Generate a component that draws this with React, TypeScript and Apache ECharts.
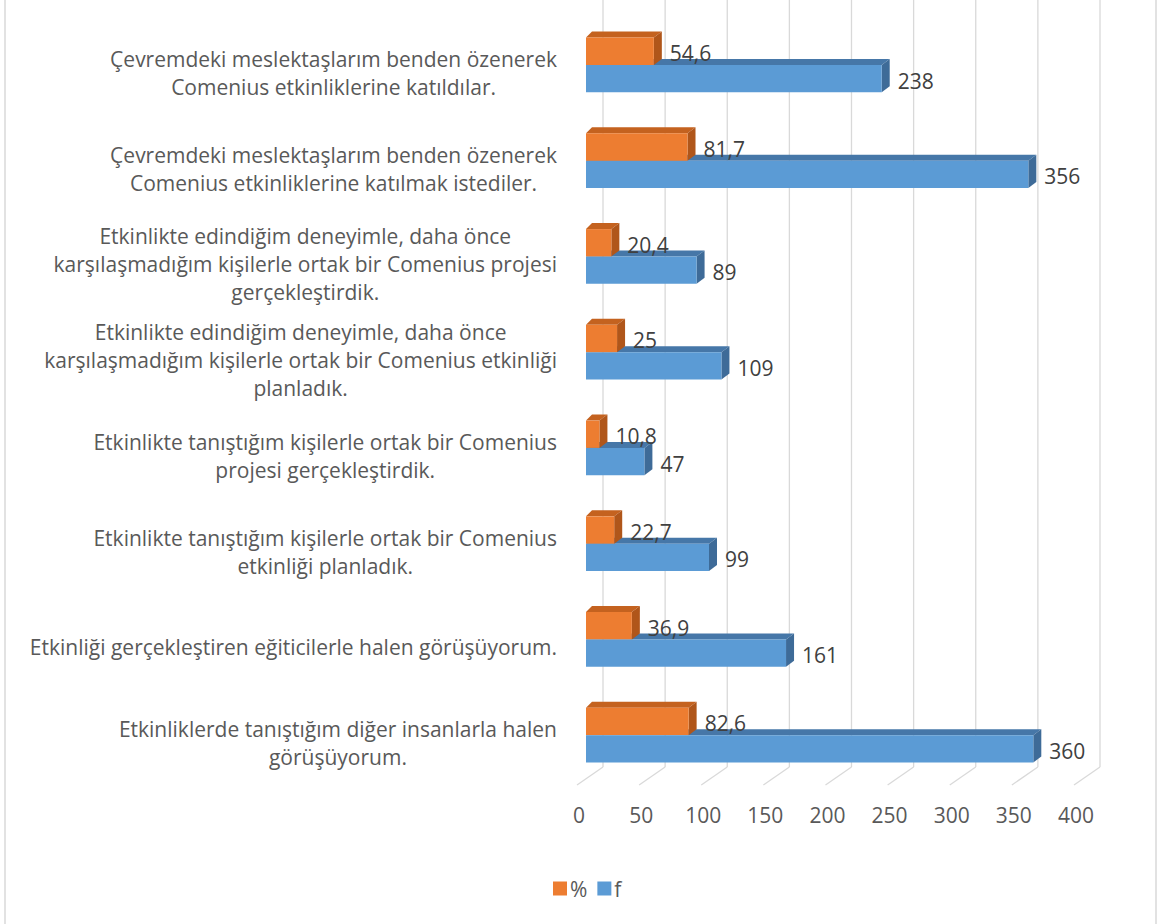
import React, { useEffect, useRef } from 'react';
import * as echarts from 'echarts';

const categories = [
  'Çevremdeki meslektaşlarım benden özenerek\nComenius etkinliklerine katıldılar.',
  'Çevremdeki meslektaşlarım benden özenerek\nComenius etkinliklerine katılmak istediler.',
  'Etkinlikte edindiğim deneyimle, daha önce\nkarşılaşmadığım kişilerle ortak bir Comenius projesi\ngerçekleştirdik.',
  'Etkinlikte edindiğim deneyimle, daha önce\nkarşılaşmadığım kişilerle ortak bir Comenius etkinliği\nplanladık.',
  'Etkinlikte tanıştığım kişilerle ortak bir Comenius\nprojesi gerçekleştirdik.',
  'Etkinlikte tanıştığım kişilerle ortak bir Comenius\netkinliği planladık.',
  'Etkinliği gerçekleştiren eğiticilerle halen görüşüyorum.',
  'Etkinliklerde tanıştığım diğer insanlarla halen\ngörüşüyorum.',
];
const percentValues = [54.6, 81.7, 20.4, 25, 10.8, 22.7, 36.9, 82.6];
const fValues = [238, 356, 89, 109, 47, 99, 161, 360];
const xTicks = [0, 50, 100, 150, 200, 250, 300, 350, 400];

const FONT_FAMILY = '"Open Sans", "Noto Sans", sans-serif';
const FONT_SIZE = 21;
const TEXT_COLOR = '#595959';

let measureCtx: CanvasRenderingContext2D | null = null;
function measure(text: string): number {
  if (!measureCtx) {
    const c = document.createElement('canvas');
    measureCtx = c.getContext('2d');
  }
  if (!measureCtx) return text.length * 10;
  measureCtx.font = `${FONT_SIZE}px ${FONT_FAMILY}`;
  return measureCtx.measureText(text).width;
}

function fmt(v: number): string {
  return String(v).replace('.', ',');
}

function makeBarRender(isTop: boolean, front: string, top: string, side: string) {
  return (params: any, api: any) => {
    const v = api.value(0);
    const idx = api.value(1);
    const start = api.coord([0, idx]);
    const end = api.coord([v, idx]);
    const band = api.size([0, 1])[1];
    const h = band * 0.285;
    const y0 = isTop ? start[1] - h : start[1];
    const x0 = start[0];
    const x1 = end[0];
    const dxL = 6;
    const dxR = 8;
    const dy = 6;
    return {
      type: 'group',
      children: [
        {
          type: 'polygon',
          shape: { points: [[x0, y0], [x0 + dxL, y0 - dy], [x1 + dxR, y0 - dy], [x1, y0]] },
          style: { fill: top },
        },
        {
          type: 'polygon',
          shape: { points: [[x1, y0], [x1 + dxR, y0 - dy], [x1 + dxR, y0 + h - dy], [x1, y0 + h]] },
          style: { fill: side },
        },
        {
          type: 'rect',
          shape: { x: x0, y: y0, width: x1 - x0, height: h },
          style: { fill: front },
        },
        {
          type: 'text',
          style: {
            text: fmt(v),
            x: x1 + dxR + 8,
            y: y0 + h / 2 + 2,
            align: 'left',
            verticalAlign: 'middle',
            font: `${FONT_SIZE}px ${FONT_FAMILY}`,
            fill: '#404040',
          },
        },
      ],
    };
  };
}

export default function App() {
  const ref = useRef<HTMLDivElement>(null);
  useEffect(() => {
    document.body.style.margin = '0';
    if (!ref.current) return;
    const chart = echarts.init(ref.current, undefined, { renderer: 'svg' });

    const option: any = {
      animation: false,
      backgroundColor: '#ffffff',
      graphic: [
        {
          type: 'rect',
          shape: { x: 5, y: -5, width: 1151, height: 940 },
          style: { fill: 'none', stroke: '#d9d9d9', lineWidth: 1.5 },
          silent: true,
        },
      ],
      legend: {
        data: [
          { name: '%', itemStyle: { color: '#ED7D31' } },
          { name: 'f', itemStyle: { color: '#5B9BD5' } },
        ],
        icon: 'rect',
        itemWidth: 14,
        itemHeight: 14,
        itemGap: 10,
        left: 548,
        top: 873,
        textStyle: { fontSize: FONT_SIZE, color: TEXT_COLOR, fontFamily: FONT_FAMILY, padding: [0, 0, 0, -2] },
      },
      grid: [
        { left: 586, width: 497, top: 17, height: 766 },
        { left: 579, width: 497, top: 17, height: 766 },
      ],
      xAxis: [
        {
          gridIndex: 0,
          type: 'value',
          min: 0,
          max: 400,
          interval: 50,
          axisLabel: { show: false },
          axisLine: { show: false },
          axisTick: { show: false },
          splitLine: { show: false },
        },
        {
          gridIndex: 1,
          type: 'value',
          min: 0,
          max: 400,
          interval: 50,
          axisLabel: { show: true, fontSize: FONT_SIZE, color: TEXT_COLOR, fontFamily: FONT_FAMILY, margin: 21 },
          axisLine: { show: false },
          axisTick: { show: false },
          splitLine: { show: false },
        },
      ],
      yAxis: [
        {
          gridIndex: 0,
          type: 'category',
          inverse: true,
          data: categories,
          axisLabel: { show: false },
          axisLine: { show: false },
          axisTick: { show: false },
          splitLine: { show: false },
        },
        { gridIndex: 1, type: 'value', show: false },
      ],
      series: [
        {
          name: 'grid',
          type: 'custom',
          xAxisIndex: 0,
          yAxisIndex: 0,
          z: 1,
          silent: true,
          data: xTicks.map((t) => [t, 0]),
          encode: { x: 0, y: 1 },
          renderItem: (params: any, api: any) => {
            const x = api.coord([api.value(0), 0])[0];
            const cs = params.coordSys;
            const bottom = cs.y + cs.height;
            const bx = x + 17;
            const backY = bottom - 16;
            const frontY = bottom + 2;
            return {
              type: 'group',
              children: [
                {
                  type: 'line',
                  shape: { x1: bx, y1: 0, x2: bx, y2: backY },
                  style: { stroke: '#d9d9d9', lineWidth: 1.3 },
                },
                {
                  type: 'line',
                  shape: { x1: x - 9, y1: frontY, x2: bx, y2: backY },
                  style: { stroke: '#d9d9d9', lineWidth: 1.3 },
                },
              ],
            };
          },
        },
        {
          name: 'labels',
          type: 'custom',
          xAxisIndex: 0,
          yAxisIndex: 0,
          z: 1,
          silent: true,
          data: categories.map((c, i) => [0, i]),
          encode: { x: 0, y: 1 },
          renderItem: (params: any, api: any) => {
            const i = api.value(1);
            const text = categories[i];
            const y = api.coord([0, i])[1] + 8;
            const maxW = Math.max(...text.split('\n').map((l) => measure(l)));
            return {
              type: 'text',
              style: {
                text,
                x: 557 - maxW / 2,
                y,
                align: 'center',
                verticalAlign: 'middle',
                font: `${FONT_SIZE}px ${FONT_FAMILY}`,
                lineHeight: 28,
                fill: TEXT_COLOR,
              },
            };
          },
        },
        {
          name: 'f',
          type: 'custom',
          xAxisIndex: 0,
          yAxisIndex: 0,
          z: 2,
          itemStyle: { color: '#5B9BD5' },
          data: fValues.map((v, i) => [v, i]),
          encode: { x: 0, y: 1 },
          renderItem: makeBarRender(false, '#5B9BD5', '#4677A8', '#3E6B98'),
        },
        {
          name: '%',
          type: 'custom',
          xAxisIndex: 0,
          yAxisIndex: 0,
          z: 3,
          itemStyle: { color: '#ED7D31' },
          data: percentValues.map((v, i) => [v, i]),
          encode: { x: 0, y: 1 },
          renderItem: makeBarRender(true, '#ED7D31', '#C4621F', '#B0561A'),
        },
      ],
    };
    chart.setOption(option);
    return () => {
      chart.dispose();
    };
  }, []);
  return <div ref={ref} style={{ width: 1160, height: 924 }} />;
}
